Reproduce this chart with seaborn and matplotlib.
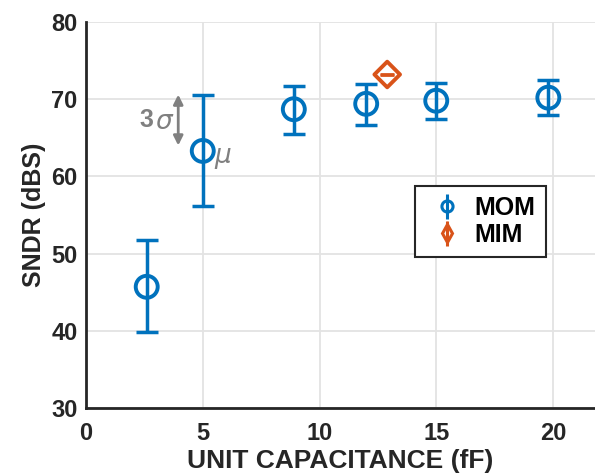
import matplotlib.pyplot as plt
import pandas as pd
import seaborn as sns

# MOM data
mom_cap = [2.6, 5.0, 8.9, 12.0, 15.0, 19.8]
mom_mean = [45.7, 63.3, 68.7, 69.4, 69.8, 70.2]
mom_low = [39.8, 56.2, 65.5, 66.7, 67.4, 67.9]
mom_high = [51.8, 70.5, 71.7, 72.0, 72.1, 72.5]

# MIM data
mim_cap = [12.9]
mim_mean = [73.2]
mim_low = [73.15]
mim_high = [73.25]

BLUE = "#0072BD"
ORANGE = "#D95319"
TXT = "#262626"
GRAY = "#808080"

sns.set_style("whitegrid")
plt.rcParams["font.family"] = ["Liberation Sans", "DejaVu Sans"]
plt.rcParams["font.weight"] = "bold"

fig = plt.figure(figsize=(5.95, 4.76), dpi=100)
ax = fig.add_axes([86 / 595, (476 - 408) / 476, (595 - 86) / 595, 386 / 476])

mom = pd.DataFrame({"cap": mom_cap, "sndr": mom_mean})
mim = pd.DataFrame({"cap": mim_cap, "sndr": mim_mean})

mom_err = [[m - lo for m, lo in zip(mom_mean, mom_low)],
           [hi - m for m, hi in zip(mom_mean, mom_high)]]
mim_err = [[m - lo for m, lo in zip(mim_mean, mim_low)],
           [hi - m for m, hi in zip(mim_mean, mim_high)]]

ax.errorbar(mom["cap"], mom["sndr"], yerr=mom_err, fmt="none", ecolor=BLUE,
            elinewidth=2.5, capsize=8, capthick=2.5, zorder=3)
sns.scatterplot(data=mom, x="cap", y="sndr", ax=ax, marker="o", s=250,
                facecolor="none", edgecolor=BLUE, linewidth=2.8, zorder=4)
ax.errorbar(mim["cap"], mim["sndr"], yerr=mim_err, fmt="none", ecolor=ORANGE,
            elinewidth=2, capsize=5, capthick=2, zorder=3)
sns.scatterplot(data=mim, x="cap", y="sndr", ax=ax, marker="D", s=170,
                facecolor="none", edgecolor=ORANGE, linewidth=2.8, zorder=4)

# legend proxies
h1 = ax.errorbar([], [], yerr=[], fmt="o", color=BLUE, mfc="none", ms=8,
                 mew=2.2, elinewidth=2.2, capsize=5, capthick=2.2)
h2 = ax.errorbar([], [], yerr=[], fmt="d", color=ORANGE, mfc="none", ms=9,
                 mew=2.2, elinewidth=2.2, capsize=5, capthick=2.2)
leg = ax.legend([h1, h2], ["MOM", "MIM"], loc="upper left",
                bbox_to_anchor=(0.646, 0.575), borderaxespad=0, fontsize=18,
                fancybox=False, framealpha=1, edgecolor=TXT,
                handlelength=1.76, handletextpad=0.24, borderpad=0.4,
                labelspacing=0.12)
leg.get_frame().set_linewidth(1.5)
for t in leg.get_texts():
    t.set_fontweight("bold")
    t.set_color("black")

# annotation: 3 sigma arrow and mu
ax.annotate("", xy=(3.95, 64.0), xytext=(3.95, 70.6),
            arrowprops=dict(arrowstyle="<|-|>", color=GRAY, lw=2,
                            mutation_scale=14, shrinkA=0, shrinkB=0))
ax.text(2.6, 67.3, "3", color=GRAY, fontsize=18, fontweight="bold",
        ha="center", va="center")
ax.text(2.95, 67.1, "σ", color=GRAY, fontsize=19, fontweight="normal",
        fontstyle="italic", family="DejaVu Sans", ha="left", va="center")
ax.text(5.5, 62.6, "μ", color=GRAY, fontsize=19, fontweight="normal",
        fontstyle="italic", family="DejaVu Sans", ha="left", va="center")

ax.set_xlim(0, 509 / 23.35)
ax.set_ylim(30, 80)
ax.set_xticks([0, 5, 10, 15, 20])
ax.set_yticks([30, 40, 50, 60, 70, 80])
ax.grid(True, color="#E3E3E3", linewidth=1.3)
ax.set_axisbelow(True)

for side in ["top", "right"]:
    ax.spines[side].set_visible(False)
for side in ["left", "bottom"]:
    ax.spines[side].set_color(TXT)
    ax.spines[side].set_linewidth(2)

ax.tick_params(direction="in", length=5, width=2, color=TXT,
               labelsize=17, labelcolor=TXT)
ax.tick_params(axis="x", pad=10)
ax.tick_params(axis="y", pad=6)
for lab in ax.get_xticklabels() + ax.get_yticklabels():
    lab.set_fontweight("bold")

ax.set_xlabel("UNIT CAPACITANCE (fF)", fontsize=19, fontweight="bold",
              color=TXT, labelpad=3)
ax.set_ylabel("SNDR (dBS)", fontsize=18, fontweight="bold", color=TXT,
              labelpad=4)

plt.savefig("out.png", dpi=100)
